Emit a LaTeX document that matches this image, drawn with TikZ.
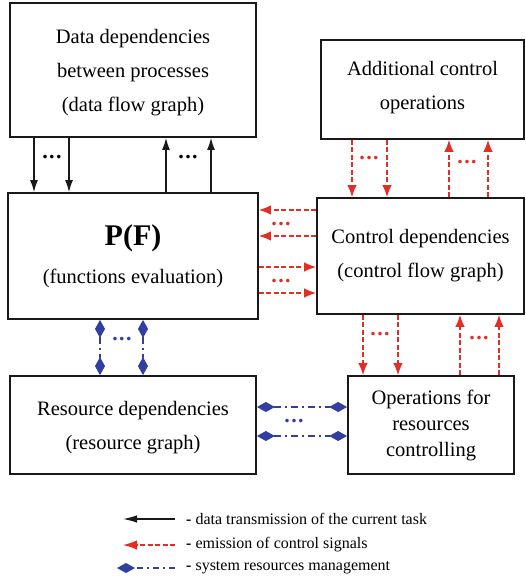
\documentclass[tikz,border=0pt]{standalone}
\usepackage{fontspec}
\setmainfont{Liberation Serif}
\usetikzlibrary{arrows.meta}
\definecolor{ctrlred}{RGB}{226,46,36}
\definecolor{resblue}{RGB}{50,62,160}
\definecolor{boxline}{RGB}{25,25,25}
\newcommand\ellip{.\kern1.3pt.\kern1.3pt.}
\newcommand\toplift{\rule{0pt}{18.5pt}}
\begin{document}
\begin{tikzpicture}[x=1pt,y=-1pt,
  box/.style={draw=boxline,line width=1.8pt,fill=white,align=center,inner sep=0pt,
    font=\fontsize{20.5}{34}\selectfont},
  dataflow/.style={boxline,line width=1.3pt,-{Latex[length=12pt,width=8pt]}},
  ctrlflow/.style={ctrlred,line width=1.3pt,dash pattern=on 5pt off 2.5pt,
    -{Latex[length=12pt,width=9.5pt]}},
  resdash/.style={resblue,line width=1.3pt,dash pattern=on 7pt off 4pt on 2pt off 4pt},
  resflow/.style={resdash,{Diamond[length=18pt,width=10pt]}-{Diamond[length=18pt,width=10pt]}},
  ell/.style={font=\fontsize{22}{22}\selectfont\bfseries,inner sep=0pt,anchor=base},
  legendtext/.style={anchor=west,inner sep=0pt,font=\fontsize{16}{18}\selectfont}
]
\useasboundingbox (0,0) rectangle (526,581);

% ---- boxes ----
\node[box,minimum width=246pt,minimum height=134pt] (data) at (133,70)
  {\toplift Data dependencies\\between processes\\(data flow graph)};
\node[box,minimum width=203pt,minimum height=99pt] (addc) at (422.5,89.5)
  {Additional control\\operations\rule[-8pt]{0pt}{8pt}};
\node[box,minimum width=250pt,minimum height=126pt,font=\fontsize{20.5}{38}\selectfont] (pf) at (133,256)
  {{\fontsize{30}{30}\selectfont\bfseries P(F)}\\(functions evaluation)};
\node[box,minimum width=207pt,minimum height=116pt] (ctrl) at (420.5,256)
  {Control dependencies\\(control flow graph)};
\node[box,minimum width=246pt,minimum height=98pt] (res) at (133,425)
  {\toplift Resource dependencies\\(resource graph)};
\node[box,minimum width=166pt,minimum height=98pt,font=\fontsize{20.5}{26}\selectfont] (ops) at (431,425)
  {Operations for\\resources\\controlling};

% ---- data flow ----
\draw[dataflow] (34,0 |- data.south) -- (34,0 |- pf.north);
\draw[dataflow] (69,0 |- data.south) -- (69,0 |- pf.north);
\draw[dataflow] (166,0 |- pf.north) -- (166,0 |- data.south);
\draw[dataflow] (211,0 |- pf.north) -- (211,0 |- data.south);
\node[ell] (d1) at (52,158.5) {\ellip};
\node[ell] (d2) at (188,158.5) {\ellip};

% ---- control flow ----
\draw[ctrlflow] (352,0 |- addc.south) -- (352,0 |- ctrl.north);
\draw[ctrlflow] (387,0 |- addc.south) -- (387,0 |- ctrl.north);
\draw[ctrlflow] (449,0 |- ctrl.north) -- (449,0 |- addc.south);
\draw[ctrlflow] (488,0 |- ctrl.north) -- (488,0 |- addc.south);
\node[ell,text=ctrlred] (c1) at (369,159.5) {\ellip};
\node[ell,text=ctrlred] (c2) at (467,163.5) {\ellip};

\draw[ctrlflow] (ctrl.west |- 0,210) -- (pf.east |- 0,210);
\draw[ctrlflow] (ctrl.west |- 0,236) -- (pf.east |- 0,236);
\draw[ctrlflow] (pf.east |- 0,267) -- (ctrl.west |- 0,267);
\draw[ctrlflow] (pf.east |- 0,293) -- (ctrl.west |- 0,293);
\node[ell,text=ctrlred] (c3) at (281,225.5) {\ellip};
\node[ell,text=ctrlred] (c4) at (281,282.5) {\ellip};

\draw[ctrlflow] (363,0 |- ctrl.south) -- (363,0 |- ops.north);
\draw[ctrlflow] (398,0 |- ctrl.south) -- (398,0 |- ops.north);
\draw[ctrlflow] (460,0 |- ops.north) -- (460,0 |- ctrl.south);
\draw[ctrlflow] (499,0 |- ops.north) -- (499,0 |- ctrl.south);
\node[ell,text=ctrlred] (c5) at (380,335.5) {\ellip};
\node[ell,text=ctrlred] (c6) at (479,339.5) {\ellip};

% ---- resource management ----
\draw[resflow] (100,0 |- pf.south) -- (100,0 |- res.north);
\draw[resflow] (143,0 |- pf.south) -- (143,0 |- res.north);
\node[ell,text=resblue] (r1) at (122,340.5) {\ellip};
\draw[resflow] (res.east |- 0,407) -- (ops.west |- 0,407);
\draw[resflow] (res.east |- 0,436) -- (ops.west |- 0,436);
\node[ell,text=resblue] (r2) at (294,422.5) {\ellip};

% ---- legend ----
\coordinate (l1a) at (175,519); \coordinate (l1b) at (123,519);
\coordinate (l2a) at (175,545); \coordinate (l2b) at (123,545);
\coordinate (l3a) at (175,568); \coordinate (l3b) at (117,568);
\draw[boxline,line width=1.3pt,-{Latex[length=14pt,width=7.5pt]}] (l1a) -- (l1b);
\draw[ctrlred,line width=1.3pt,dash pattern=on 5pt off 2.5pt,-{Latex[length=14pt,width=9.5pt]}] (l2a) -- (l2b);
\draw[resblue,line width=1.3pt,dash pattern=on 6pt off 4pt on 2pt off 4pt,
  -{Diamond[length=18pt,width=10pt]}] (l3a) -- (l3b);
\node[legendtext] (t1) at (186,519) {\textbf{-} data transmission of the current task};
\node[legendtext] (t2) at (186,545) {\textbf{-} emission of control signals};
\node[legendtext] (t3) at (186,568) {\textbf{-} system resources management};
\end{tikzpicture}
\end{document}
